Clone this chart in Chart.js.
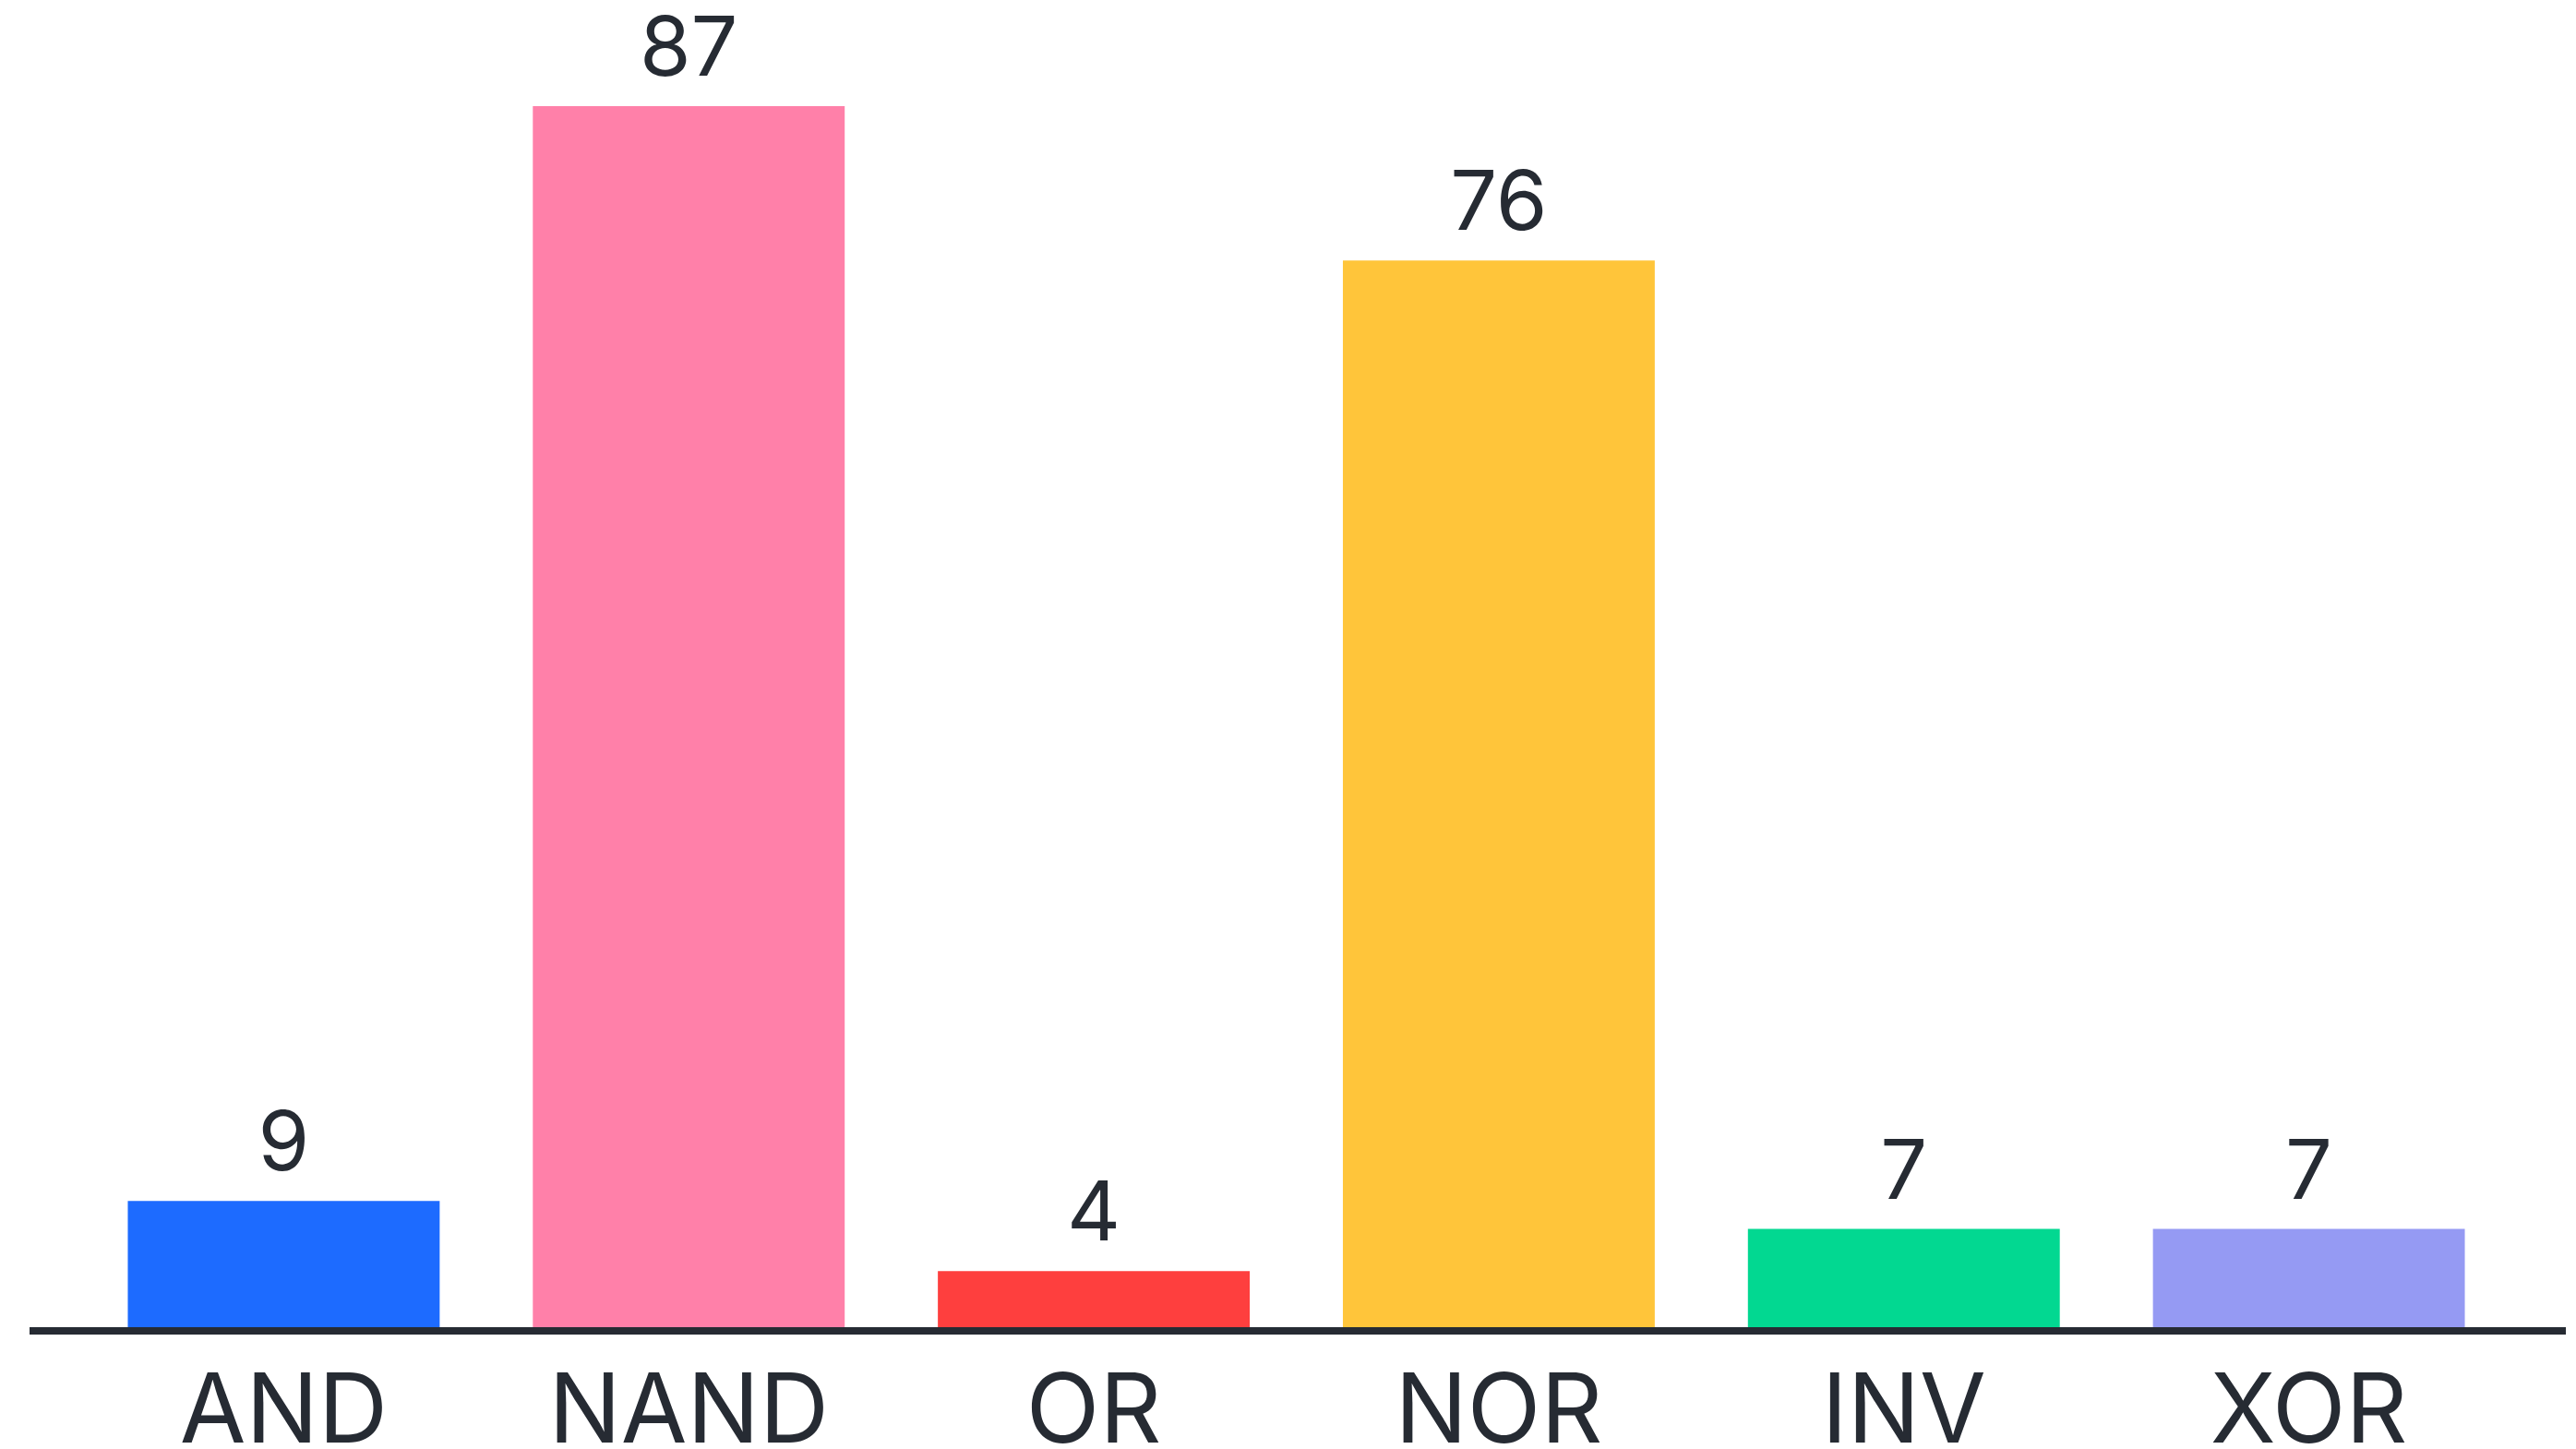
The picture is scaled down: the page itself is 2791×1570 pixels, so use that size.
<!DOCTYPE html>
<html>
<head>
<meta charset="utf-8">
<script src="https://cdn.jsdelivr.net/npm/chart.js@4"></script>
<style>
  html, body { margin: 0; padding: 0; background: #fff; }
</style>
</head>
<body>
<canvas id="graficoPortas" width="2791" height="1570"></canvas>
<script>
var portas = ["AND", "NAND", "OR", "NOR", "INV", "XOR"];
var quantidades = [9, 87, 4, 76, 7, 7];
var cores = ["#1d6bff", "#ff80a9", "#fe3f3e", "#ffc53a", "#02d891", "#959af3"];

var Portas = Portas || {};

Portas.GraficoQuantidade = (function(){

    function GraficoQuantidade(){
        this.ctx = document.getElementById('graficoPortas').getContext('2d');
    }

    // desenha o valor acima de cada barra
    var rotulosValores = {
        id: 'rotulosValores',
        afterDatasetsDraw: function(chart){
            var ctx = chart.ctx;
            var meta = chart.getDatasetMeta(0);
            ctx.save();
            ctx.fillStyle = "#262b33";
            ctx.font = "90px Inter, 'Open Sans', sans-serif";
            ctx.textAlign = "center";
            ctx.textBaseline = "alphabetic";
            meta.data.forEach(function(barra, i){
                ctx.fillText(String(quantidades[i]), barra.x, barra.y - 33);
            });
            ctx.restore();
        }
    };

    // linha base mais larga que a area das barras
    var linhaBase = {
        id: 'linhaBase',
        afterDatasetsDraw: function(chart){
            var ctx = chart.ctx;
            var y = chart.scales.y.getPixelForValue(0);
            ctx.save();
            ctx.strokeStyle = "#262b33";
            ctx.lineWidth = 8;
            ctx.beginPath();
            ctx.moveTo(32, y + 4);
            ctx.lineTo(2780, y + 4);
            ctx.stroke();
            ctx.restore();
        }
    };

    GraficoQuantidade.prototype.iniciar = function(){
        new Chart(this.ctx, {
            type: "bar",
            data: {
                labels: portas,
                datasets: [{
                    data: quantidades,
                    backgroundColor: cores,
                    borderWidth: 0,
                    categoryPercentage: 0.77,
                    barPercentage: 1
                }]
            },
            options: {
                responsive: false,
                devicePixelRatio: 1,
                animation: false,
                layout: {
                    padding: { top: 115, left: 88, right: 70, bottom: 0 }
                },
                plugins: {
                    legend: { display: false },
                    tooltip: { enabled: false }
                },
                scales: {
                    x: {
                        grid: { display: false, drawTicks: false, tickLength: 0 },
                        border: { display: false },
                        ticks: {
                            color: "#262b33",
                            padding: 42,
                            font: { family: "Inter, 'Open Sans', sans-serif", size: 104, lineHeight: 1 }
                        },
                        afterFit: function(escala){
                            escala.height = 132;
                        }
                    },
                    y: {
                        display: false,
                        min: 0,
                        max: 87
                    }
                }
            },
            plugins: [rotulosValores, linhaBase]
        });
    };

    return GraficoQuantidade;
}());

var graficoQuantidade = new Portas.GraficoQuantidade();
Promise.all([
    document.fonts.load("104px Inter"),
    document.fonts.load("90px Inter")
]).then(function(){
    graficoQuantidade.iniciar();
}, function(){
    graficoQuantidade.iniciar();
});
</script>
</body>
</html>
